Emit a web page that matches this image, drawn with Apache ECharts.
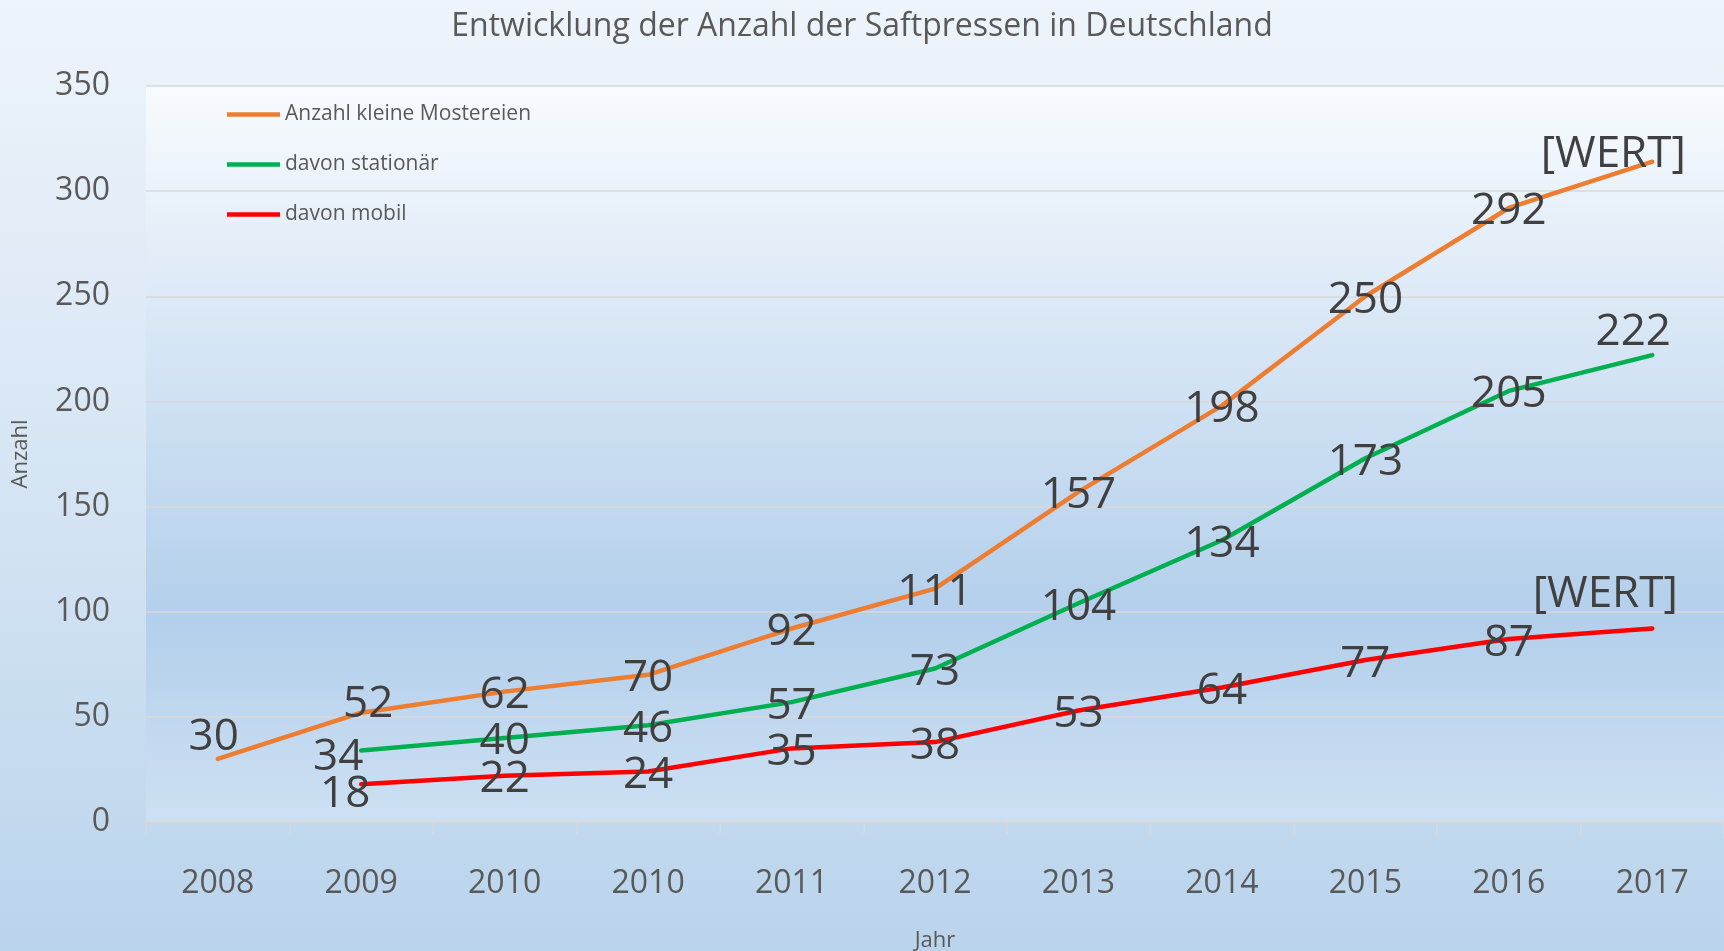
<!doctype html>
<html>
	<head>
		<meta charset="UTF-8">
		<title>Saftpressen in Deutschland</title>
		<style>
			html, body {
				margin: 0;
				padding: 0;
			}
			#chart {
				width: 1724px;
				height: 951px;
			}
		</style>
	</head>
	<body>
		<div id="chart"></div>
		<script src="https://cdn.jsdelivr.net/npm/echarts@6/dist/echarts.min.js"></script>
		<script type="text/javascript">
			// Werte
			var jahre = ['2008', '2009', '2010', '2010', '2011', '2012', '2013', '2014', '2015', '2016', '2017'];
			var kleineMostereien = [30, 52, 62, 70, 92, 111, 157, 198, 250, 292, 314];
			var stationaer = [null, 34, 40, 46, 57, 73, 104, 134, 173, 205, 222];
			var mobil = [null, 18, 22, 24, 35, 38, 53, 64, 77, 87, 92];
			var yTicks = [0, 50, 100, 150, 200, 250, 300, 350];
			// Punkte, deren Beschriftung im Original nur "[WERT]" zeigt
			var wertPunkte = {orange: [10], rot: [10]};

			var schrift = "'Open Sans', 'Noto Sans', sans-serif";

			// Verschiebung einzelner Datenbeschriftungen (wie im Original verrückt)
			var labelVersatz = {
				orange: {0: [-4, -21], 1: [7, -8], 10: [-39, -7]},
				gruen: {1: [-23, 7], 10: [-19, -23]},
				rot: {1: [-16, 10], 10: [-47, -34]}
			};

			function baueSerie(name, werte, farbe, key) {
				var wert = wertPunkte[key] || [];
				var versatz = labelVersatz[key] || {};
				return {
					name: name,
					type: 'line',
					data: werte,
					symbol: 'circle',
					symbolSize: 1,
					showSymbol: true,
					connectNulls: false,
					lineStyle: {
						color: farbe,
						width: 4.5,
						cap: 'round',
						join: 'round'
					},
					itemStyle: {color: farbe},
					label: {
						show: true,
						position: 'inside',
						fontFamily: schrift,
						fontSize: 44,
						color: '#404040',
						formatter: function(p) {
							if(wert.indexOf(p.dataIndex) >= 0) return '[WERT]';
							return p.value;
						}
					},
					labelLayout: function(p) {
						var off = versatz[p.dataIndex] || [0, 4];
						return {dx: off[0], dy: off[1], hideOverlap: false};
					},
					z: 3
				};
			}

			var chart = echarts.init(document.getElementById('chart'));
			var option = {
				animation: false,
				backgroundColor: new echarts.graphic.LinearGradient(0, 0, 0, 1, [
					{offset: 0, color: '#EEF4FB'},
					{offset: 0.5, color: '#D6E5F4'},
					{offset: 1, color: '#BAD4EC'}
				]),
				title: {
					text: 'Entwicklung der Anzahl der Saftpressen in Deutschland',
					left: 'center',
					top: 6,
					textStyle: {
						fontFamily: schrift,
						fontSize: 32,
						fontWeight: 'normal',
						color: '#595959'
					}
				},
				legend: {
					orient: 'vertical',
					left: 222,
					top: 99,
					itemWidth: 53,
					itemHeight: 4.5,
					itemGap: 29,
					icon: 'rect',
					textStyle: {
						fontFamily: schrift,
						fontSize: 21,
						lineHeight: 21,
						color: '#595959'
					},
					data: ['Anzahl kleine Mostereien', 'davon stationär', 'davon mobil']
				},
				grid: {
					left: 146,
					right: 0,
					top: 86,
					bottom: 129,
					outerBoundsMode: 'none',
					show: true,
					borderWidth: 0,
					backgroundColor: new echarts.graphic.LinearGradient(0, 0, 0, 1, [
						{offset: 0, color: '#F8FBFE'},
						{offset: 0.72, color: '#B3CFEB'},
						{offset: 1, color: '#CDE0F3'}
					])
				},
				xAxis: {
					type: 'category',
					data: jahre,
					boundaryGap: true,
					name: 'Jahr',
					nameLocation: 'middle',
					nameGap: 108,
					nameTextStyle: {
						fontFamily: schrift,
						fontSize: 22,
						color: '#595959'
					},
					axisLine: {lineStyle: {color: '#D9D9D9', width: 1.5}},
					axisTick: {show: true, length: 12, lineStyle: {color: '#D9D9D9', width: 1.5}},
					axisLabel: {
						fontFamily: schrift,
						fontSize: 32,
						color: '#595959',
						margin: 46
					}
				},
				yAxis: {
					type: 'value',
					min: yTicks[0],
					max: yTicks[yTicks.length - 1],
					interval: 50,
					name: 'Anzahl',
					nameLocation: 'middle',
					nameGap: 114,
					nameTextStyle: {
						fontFamily: schrift,
						fontSize: 22,
						color: '#595959'
					},
					axisLine: {show: false},
					axisTick: {show: false},
					splitLine: {lineStyle: {color: '#D9D9D9', width: 1.5}},
					axisLabel: {
						fontFamily: schrift,
						fontSize: 32,
						color: '#595959',
						margin: 36
					}
				},
				series: [
					baueSerie('Anzahl kleine Mostereien', kleineMostereien, '#ED7D31', 'orange'),
					baueSerie('davon stationär', stationaer, '#00B050', 'gruen'),
					baueSerie('davon mobil', mobil, '#FF0000', 'rot')
				]
			};
			chart.setOption(option);
		</script>
	</body>
</html>
